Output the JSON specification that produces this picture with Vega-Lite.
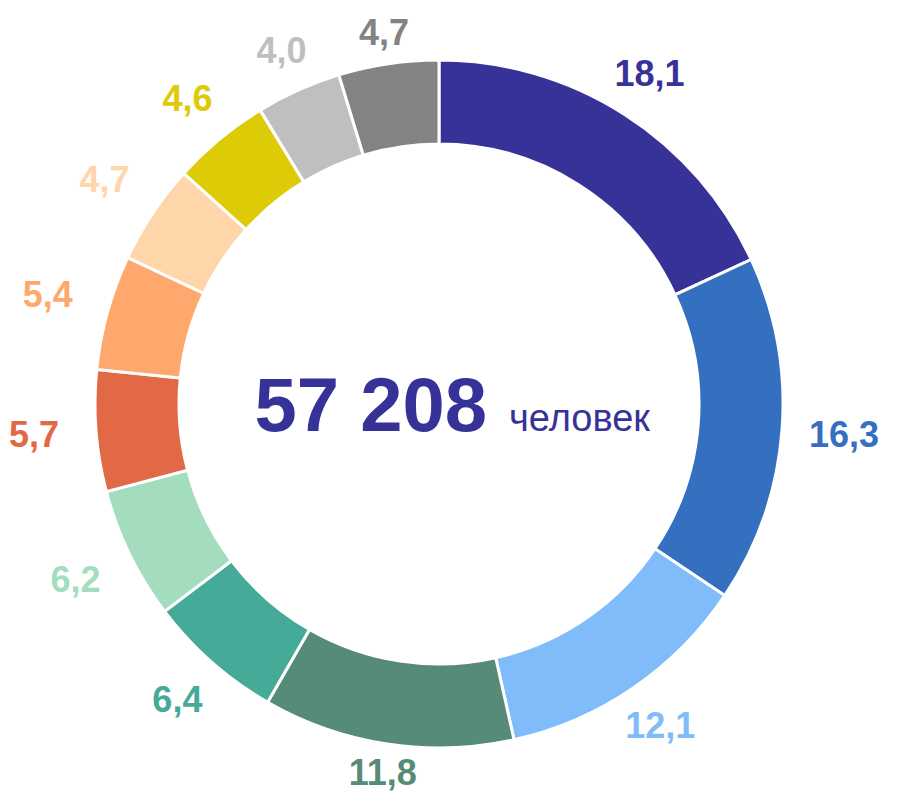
{
  "$schema": "https://vega.github.io/schema/vega-lite/v6.json",
  "width": 878,
  "height": 808,
  "autosize": {"type": "none"},
  "padding": 0,
  "background": "white",
  "config": {"view": {"stroke": null}, "font": "Liberation Sans"},
  "layer": [
    {
      "data": {"name": "main", "values": [
        {"i": 1, "cat": "a", "value": 18.1, "label": "18,1"},
        {"i": 2, "cat": "b", "value": 16.3, "label": "16,3"},
        {"i": 3, "cat": "c", "value": 12.1, "label": "12,1"},
        {"i": 4, "cat": "d", "value": 11.8, "label": "11,8"},
        {"i": 5, "cat": "e", "value": 6.4, "label": "6,4"},
        {"i": 6, "cat": "f", "value": 6.2, "label": "6,2"},
        {"i": 7, "cat": "g", "value": 5.7, "label": "5,7"},
        {"i": 8, "cat": "h", "value": 5.4, "label": "5,4"},
        {"i": 9, "cat": "i", "value": 4.7, "label": "4,7"},
        {"i": 10, "cat": "j", "value": 4.6, "label": "4,6"},
        {"i": 11, "cat": "k", "value": 4.0, "label": "4,0"},
        {"i": 12, "cat": "l", "value": 4.7, "label": "4,7"}
      ]},
      "layer": [
        {
          "mark": {"type": "arc", "innerRadius": 260, "outerRadius": 344, "stroke": "white", "strokeWidth": 3},
          "encoding": {
            "theta": {"field": "value", "type": "quantitative", "stack": true},
            "order": {"field": "i", "type": "quantitative", "sort": "ascending"},
            "color": {"field": "cat", "type": "nominal", "legend": null,
              "scale": {"domain": ["a","b","c","d","e","f","g","h","i","j","k","l"],
                "range": ["#373297","#3570C0","#80BBFA","#568B78","#45AA97","#A3DDBE","#E26946","#FFA86D","#FFD6AA","#DDCB08","#BFBFBF","#838383"]}}
          }
        },
        {
          "mark": {"type": "text",
            "radius": {"expr": "362 + 44*abs(sin(PI*(datum.value_start+datum.value_end)/100)) + 6*abs(cos(PI*(datum.value_start+datum.value_end)/100))"},
            "fontSize": 36, "fontWeight": "bold", "align": "center", "baseline": "middle"},
          "encoding": {
            "theta": {"field": "value", "type": "quantitative", "stack": true},
            "order": {"field": "i", "type": "quantitative", "sort": "ascending"},
            "text": {"field": "label"},
            "color": {"field": "cat", "type": "nominal", "legend": null}
          }
        }
      ]
    },
    {
      "data": {"values": [{"t": "57 208"}]},
      "mark": {"type": "text", "fontSize": 76, "fontWeight": "bold", "align": "right", "baseline": "alphabetic", "dx": 48, "dy": 27, "color": "#373297"},
      "encoding": {"text": {"field": "t"}}
    },
    {
      "data": {"values": [{"t": "человек"}]},
      "mark": {"type": "text", "fontSize": 38, "align": "left", "baseline": "alphabetic", "dx": 70, "dy": 27, "color": "#373297"},
      "encoding": {"text": {"field": "t"}}
    }
  ]
}
